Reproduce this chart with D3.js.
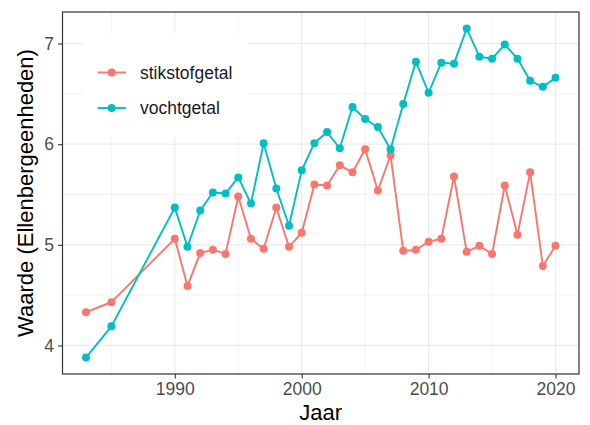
<!DOCTYPE html>
<html>
<head>
    <meta charset="utf-8">
    <style>
        body { margin: 0; background: #fff; }
        svg { font-family: 'Liberation Sans', Arial, Helvetica, sans-serif; }
        .tick text { font-size: 17.5px; fill: #4d4d4d; }
        .tick line { stroke: #333; stroke-width: 1.1px; }
        .domain { display: none; }
        .axis-title { font-size: 22px; fill: #000; }
        .legend-label { font-size: 17.5px; fill: #1a1a1a; }
    </style>
</head>
<body>
<svg width="590" height="425"></svg>

<script src="https://d3js.org/d3.v7.min.js"></script>
<script>
    // data
    const years = [1983, 1985, 1990, 1991, 1992, 1993, 1994, 1995, 1996, 1997, 1998, 1999,
        2000, 2001, 2002, 2003, 2004, 2005, 2006, 2007, 2008, 2009, 2010, 2011, 2012,
        2013, 2014, 2015, 2016, 2017, 2018, 2019, 2020];
    const stikstofgetal = [4.33, 4.43, 5.06, 4.59, 4.92, 4.95, 4.91, 5.48, 5.06, 4.96, 5.37, 4.98,
        5.12, 5.60, 5.59, 5.79, 5.72, 5.95, 5.54, 5.89, 4.94, 4.95, 5.03, 5.06, 5.68,
        4.93, 4.99, 4.91, 5.59, 5.10, 5.72, 4.79, 4.99];
    const vochtgetal = [3.88, 4.19, 5.37, 4.98, 5.34, 5.52, 5.51, 5.67, 5.41, 6.01, 5.56, 5.19,
        5.74, 6.01, 6.12, 5.96, 6.37, 6.25, 6.17, 5.95, 6.40, 6.82, 6.51, 6.81, 6.80,
        7.15, 6.87, 6.85, 6.99, 6.85, 6.63, 6.57, 6.66];
    const seriesNames = ["stikstofgetal", "vochtgetal"];
    const seriesColors = ["#F8766D", "#00BFC4"];
    const xTicks = [1990, 2000, 2010, 2020];
    const xMinor = [1985, 1995, 2005, 2015];
    const yTicks = [4, 5, 6, 7];
    const yMinor = [4.5, 5.5, 6.5];

    const panel = { left: 62.5, right: 579, top: 12, bottom: 374 };
    const svg = d3.select("svg");

    // ggplot style 5% expansion
    const allVals = stikstofgetal.concat(vochtgetal);
    const xr = d3.extent(years), yr = d3.extent(allVals);
    const xp = (xr[1] - xr[0]) * 0.05, yp = (yr[1] - yr[0]) * 0.05;

    const x = d3.scaleLinear()
        .domain([xr[0] - xp, xr[1] + xp])
        .range([panel.left, panel.right]);
    const y = d3.scaleLinear()
        .domain([yr[0] - yp, yr[1] + yp])
        .range([panel.bottom, panel.top]);

    // grid lines
    const grid = svg.append("g");
    grid.selectAll(".vminor").data(xMinor).join("line")
        .attr("x1", d => x(d)).attr("x2", d => x(d))
        .attr("y1", panel.top).attr("y2", panel.bottom)
        .attr("stroke", "#ebebeb").attr("stroke-width", 0.6);
    grid.selectAll(".hminor").data(yMinor).join("line")
        .attr("y1", d => y(d)).attr("y2", d => y(d))
        .attr("x1", panel.left).attr("x2", panel.right)
        .attr("stroke", "#ebebeb").attr("stroke-width", 0.6);
    grid.selectAll(".vmajor").data(xTicks).join("line")
        .attr("x1", d => x(d)).attr("x2", d => x(d))
        .attr("y1", panel.top).attr("y2", panel.bottom)
        .attr("stroke", "#ebebeb").attr("stroke-width", 1.2);
    grid.selectAll(".hmajor").data(yTicks).join("line")
        .attr("y1", d => y(d)).attr("y2", d => y(d))
        .attr("x1", panel.left).attr("x2", panel.right)
        .attr("stroke", "#ebebeb").attr("stroke-width", 1.2);

    // lines and points
    const series = [stikstofgetal, vochtgetal].map((vals, i) => ({
        name: seriesNames[i],
        color: seriesColors[i],
        values: years.map((yy, j) => ({ year: yy, value: vals[j] }))
    }));

    const line = d3.line()
        .x(d => x(d.year))
        .y(d => y(d.value));

    const marks = svg.append("g");
    series.forEach(s => {
        marks.append("path")
            .datum(s.values)
            .attr("fill", "none")
            .attr("stroke", s.color)
            .attr("stroke-width", 1.9)
            .attr("d", line);
        marks.selectAll(null)
            .data(s.values)
            .join("circle")
            .attr("cx", d => x(d.year))
            .attr("cy", d => y(d.value))
            .attr("r", 4)
            .attr("fill", s.color);
    });

    // legend inside the panel
    const legend = svg.append("g");
    legend.append("rect")
        .attr("x", 83).attr("y", 33)
        .attr("width", 166).attr("height", 104)
        .attr("fill", "#fff");
    series.forEach((s, i) => {
        const ly = 72.5 + i * 35.5;
        legend.append("line")
            .attr("x1", 97.5).attr("x2", 126)
            .attr("y1", ly).attr("y2", ly)
            .attr("stroke", s.color).attr("stroke-width", 1.9);
        legend.append("circle")
            .attr("cx", 111.7).attr("cy", ly).attr("r", 4)
            .attr("fill", s.color);
        legend.append("text")
            .attr("class", "legend-label")
            .attr("x", 140).attr("y", ly + 6.3)
            .text(s.name);
    });

    // panel border
    svg.append("rect")
        .attr("x", panel.left).attr("y", panel.top)
        .attr("width", panel.right - panel.left)
        .attr("height", panel.bottom - panel.top)
        .attr("fill", "none")
        .attr("stroke", "#333")
        .attr("stroke-width", 1.2);

    // axes
    svg.append("g")
        .attr("class", "x axis")
        .attr("transform", `translate(0,${panel.bottom})`)
        .call(d3.axisBottom(x).tickValues(xTicks).tickSize(4.5).tickPadding(4).tickFormat(d3.format("d")));

    svg.append("g")
        .attr("class", "y axis")
        .attr("transform", `translate(${panel.left},0)`)
        .call(d3.axisLeft(y).tickValues(yTicks).tickSize(4.5).tickPadding(4).tickFormat(d3.format("d")));

    // axis titles
    svg.append("text")
        .attr("class", "axis-title")
        .attr("x", (panel.left + panel.right) / 2)
        .attr("y", 420)
        .attr("text-anchor", "middle")
        .text("Jaar");

    svg.append("text")
        .attr("class", "axis-title")
        .attr("transform", `translate(33,${(panel.top + panel.bottom) / 2}) rotate(-90)`)
        .attr("text-anchor", "middle")
        .text("Waarde (Ellenbergeenheden)");
</script>
</body>
</html>
